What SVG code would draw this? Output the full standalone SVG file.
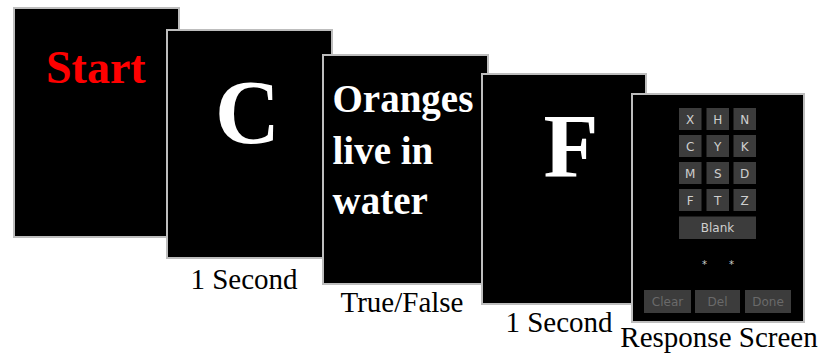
<svg xmlns="http://www.w3.org/2000/svg" width="824" height="358" viewBox="0 0 824 358">
<style>
.panel{fill:#000;stroke:#bdbdbd;stroke-width:2}
.big{font-family:"Liberation Serif","Times New Roman",serif;font-weight:bold;fill:#fff}
.lbl{font-family:"Liberation Serif","Times New Roman",serif;font-size:29px;fill:#000;text-anchor:middle}
.btn{fill:#3c3c3c}
.bt{font-family:"DejaVu Sans",sans-serif;font-size:12px;fill:#cfcfcf;text-anchor:middle}
.bd{font-family:"DejaVu Sans",sans-serif;font-size:12px;fill:#6a6a6a;text-anchor:middle}
</style>
<rect width="824" height="358" fill="#fff"/>
<g id="start">
<rect class="panel" x="14" y="8" width="165" height="229"/>
<text x="46" y="83" class="big" style="font-size:46px;fill:#ff0000">Start</text>
</g>
<g id="letter-c">
<rect class="panel" x="167" y="30" width="165" height="228"/>
<text x="215" y="143" class="big" style="font-size:90px">C</text>
<text x="244" y="289" class="lbl">1 Second</text>
</g>
<g id="sentence">
<rect class="panel" x="323" y="55" width="165" height="229"/>
<text class="big" style="font-size:39px"><tspan x="332.5" y="112">Oranges</tspan><tspan x="332.5" y="164">live in</tspan><tspan x="332.5" y="214">water</tspan></text>
<text x="402" y="312" class="lbl">True/False</text>
</g>
<g id="letter-f">
<rect class="panel" x="482" y="74" width="164" height="230"/>
<text x="543.5" y="177" class="big" style="font-size:90px">F</text>
<text x="559" y="332" class="lbl">1 Second</text>
</g>
<g id="response">
<rect class="panel" x="632" y="94" width="172" height="228"/>
<g>
<rect class="btn" x="679" y="108" width="22.5" height="22"/>
<rect class="btn" x="706.5" y="108" width="22.5" height="22"/>
<rect class="btn" x="733.5" y="108" width="22.5" height="22"/>
<rect class="btn" x="679" y="135" width="22.5" height="22"/>
<rect class="btn" x="706.5" y="135" width="22.5" height="22"/>
<rect class="btn" x="733.5" y="135" width="22.5" height="22"/>
<rect class="btn" x="679" y="162" width="22.5" height="22"/>
<rect class="btn" x="706.5" y="162" width="22.5" height="22"/>
<rect class="btn" x="733.5" y="162" width="22.5" height="22"/>
<rect class="btn" x="679" y="189" width="22.5" height="22"/>
<rect class="btn" x="706.5" y="189" width="22.5" height="22"/>
<rect class="btn" x="733.5" y="189" width="22.5" height="22"/>
<rect class="btn" x="679" y="216.5" width="77" height="22.5"/>
<rect class="btn" x="644" y="290" width="47" height="23"/>
<rect class="btn" x="695" y="290" width="45" height="23"/>
<rect class="btn" x="745" y="290" width="46" height="23"/>
</g>
<g>
<text class="bt" x="690.2" y="123.5">X</text>
<text class="bt" x="717.7" y="123.5">H</text>
<text class="bt" x="744.7" y="123.5">N</text>
<text class="bt" x="690.2" y="150.5">C</text>
<text class="bt" x="717.7" y="150.5">Y</text>
<text class="bt" x="744.7" y="150.5">K</text>
<text class="bt" x="690.2" y="177.5">M</text>
<text class="bt" x="717.7" y="177.5">S</text>
<text class="bt" x="744.7" y="177.5">D</text>
<text class="bt" x="690.2" y="204.5">F</text>
<text class="bt" x="717.7" y="204.5">T</text>
<text class="bt" x="744.7" y="204.5">Z</text>
<text class="bt" x="717.5" y="232">Blank</text>
<text class="bt" x="704.5" y="268" style="font-size:10px">*</text>
<text class="bt" x="731.5" y="268" style="font-size:10px">*</text>
<text class="bd" x="667.5" y="306">Clear</text>
<text class="bd" x="717.5" y="306">Del</text>
<text class="bd" x="768" y="306">Done</text>
</g>
<text x="719" y="347" class="lbl">Response Screen</text>
</g>
</svg>
